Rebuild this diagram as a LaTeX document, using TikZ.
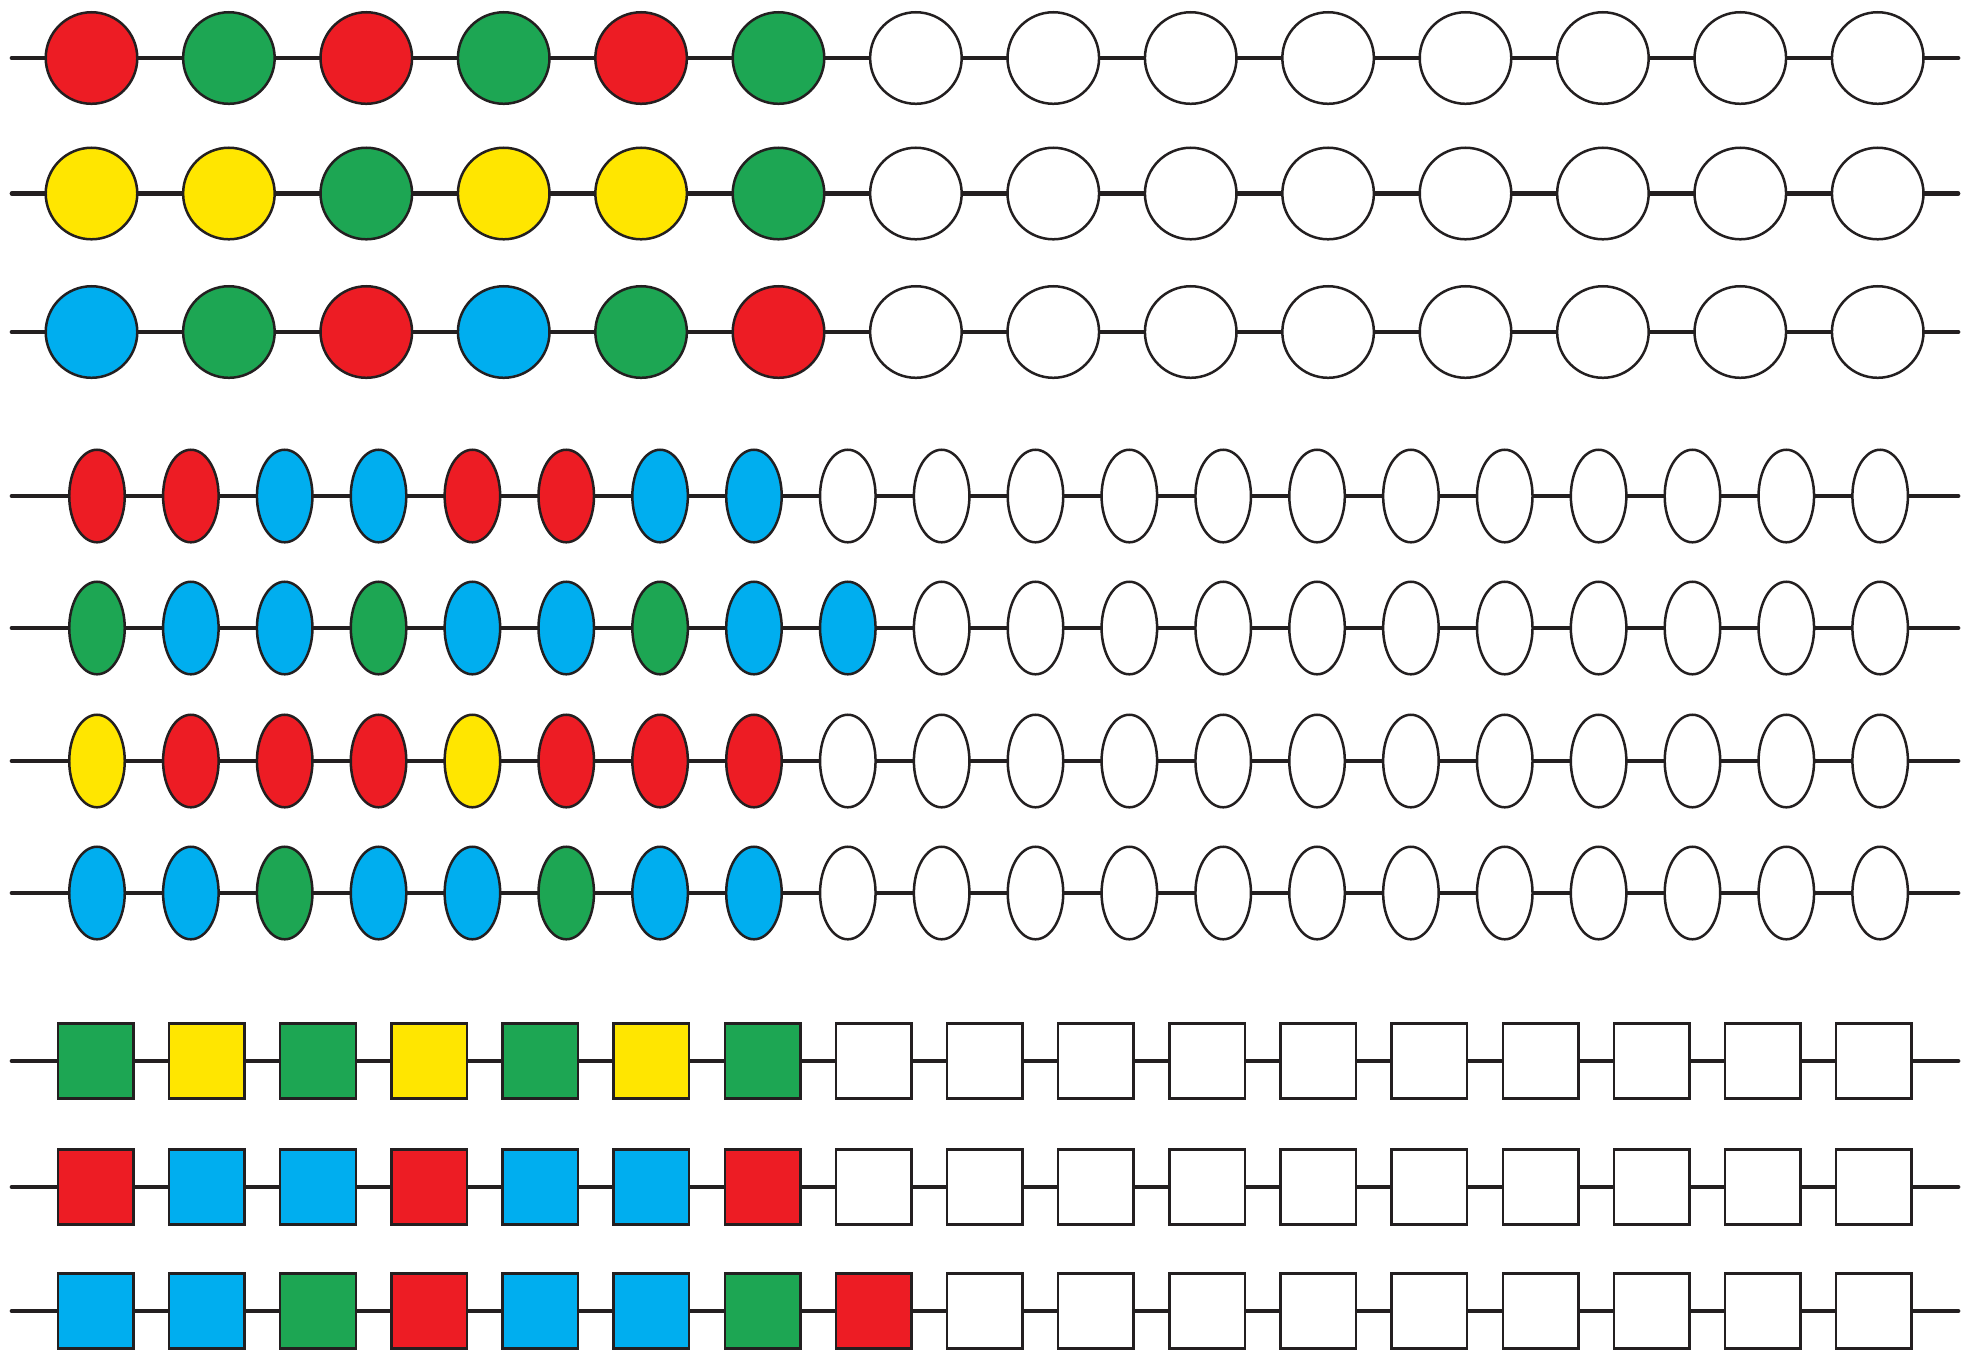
\documentclass[tikz,border=0pt]{standalone}
\usetikzlibrary{shapes.geometric}
\definecolor{rodgray}{HTML}{231F20}
\definecolor{bred}{HTML}{ED1C24}
\definecolor{bgreen}{HTML}{1DA653}
\definecolor{byellow}{HTML}{FFE600}
\definecolor{bblue}{HTML}{00AEEF}
\begin{document}
\begin{tikzpicture}[x=0.01cm,y=-0.01cm,
    rod/.style={line width=0.047cm,draw=rodgray,line cap=round},
    ball/.style={circle,draw=rodgray,line width=0.025cm,minimum size=0.915cm,inner sep=0},
    egg/.style={ellipse,draw=rodgray,line width=0.025cm,minimum width=0.555cm,minimum height=0.925cm,inner sep=0},
    cube/.style={rectangle,draw=rodgray,line width=0.025cm,minimum width=0.755cm,minimum height=0.75cm,inner sep=0}]
    \useasboundingbox (0,0) rectangle (1969,1353);
    % rods
    \foreach \y [count=\r] in {58,193.5,332,496,628,761,893,1061,1187,1311}{
        \coordinate (rodL\r) at (12,\y);
        \coordinate (rodR\r) at (1958,\y);
        \draw[rod] (rodL\r) -- (rodR\r);
    }
    % round beads
    \foreach \c [count=\i] in {bred,bgreen,bred,bgreen,bred,bgreen,white,white,white,white,white,white,white,white}
        \node[ball,fill=\c] (a1-\i) at ({91.5+137.4*(\i-1)},58) {};
    \foreach \c [count=\i] in {byellow,byellow,bgreen,byellow,byellow,bgreen,white,white,white,white,white,white,white,white}
        \node[ball,fill=\c] (a2-\i) at ({91.5+137.4*(\i-1)},193.5) {};
    \foreach \c [count=\i] in {bblue,bgreen,bred,bblue,bgreen,bred,white,white,white,white,white,white,white,white}
        \node[ball,fill=\c] (a3-\i) at ({91.5+137.4*(\i-1)},332) {};
    % oval beads
    \foreach \c [count=\i] in {bred,bred,bblue,bblue,bred,bred,bblue,bblue,white,white,white,white,white,white,white,white,white,white,white,white}
        \node[egg,fill=\c] (e1-\i) at ({97+93.85*(\i-1)},496) {};
    \foreach \c [count=\i] in {bgreen,bblue,bblue,bgreen,bblue,bblue,bgreen,bblue,bblue,white,white,white,white,white,white,white,white,white,white,white}
        \node[egg,fill=\c] (e2-\i) at ({97+93.85*(\i-1)},628) {};
    \foreach \c [count=\i] in {byellow,bred,bred,bred,byellow,bred,bred,bred,white,white,white,white,white,white,white,white,white,white,white,white}
        \node[egg,fill=\c] (e3-\i) at ({97+93.85*(\i-1)},761) {};
    \foreach \c [count=\i] in {bblue,bblue,bgreen,bblue,bblue,bgreen,bblue,bblue,white,white,white,white,white,white,white,white,white,white,white,white}
        \node[egg,fill=\c] (e4-\i) at ({97+93.85*(\i-1)},893) {};
    % square beads
    \foreach \c [count=\i] in {bgreen,byellow,bgreen,byellow,bgreen,byellow,bgreen,white,white,white,white,white,white,white,white,white,white}
        \node[cube,fill=\c] (s1-\i) at ({95.7+111.14*(\i-1)},1061) {};
    \foreach \c [count=\i] in {bred,bblue,bblue,bred,bblue,bblue,bred,white,white,white,white,white,white,white,white,white,white}
        \node[cube,fill=\c] (s2-\i) at ({95.7+111.14*(\i-1)},1187) {};
    \foreach \c [count=\i] in {bblue,bblue,bgreen,bred,bblue,bblue,bgreen,bred,white,white,white,white,white,white,white,white,white}
        \node[cube,fill=\c] (s3-\i) at ({95.7+111.14*(\i-1)},1311) {};
\end{tikzpicture}
\end{document}
